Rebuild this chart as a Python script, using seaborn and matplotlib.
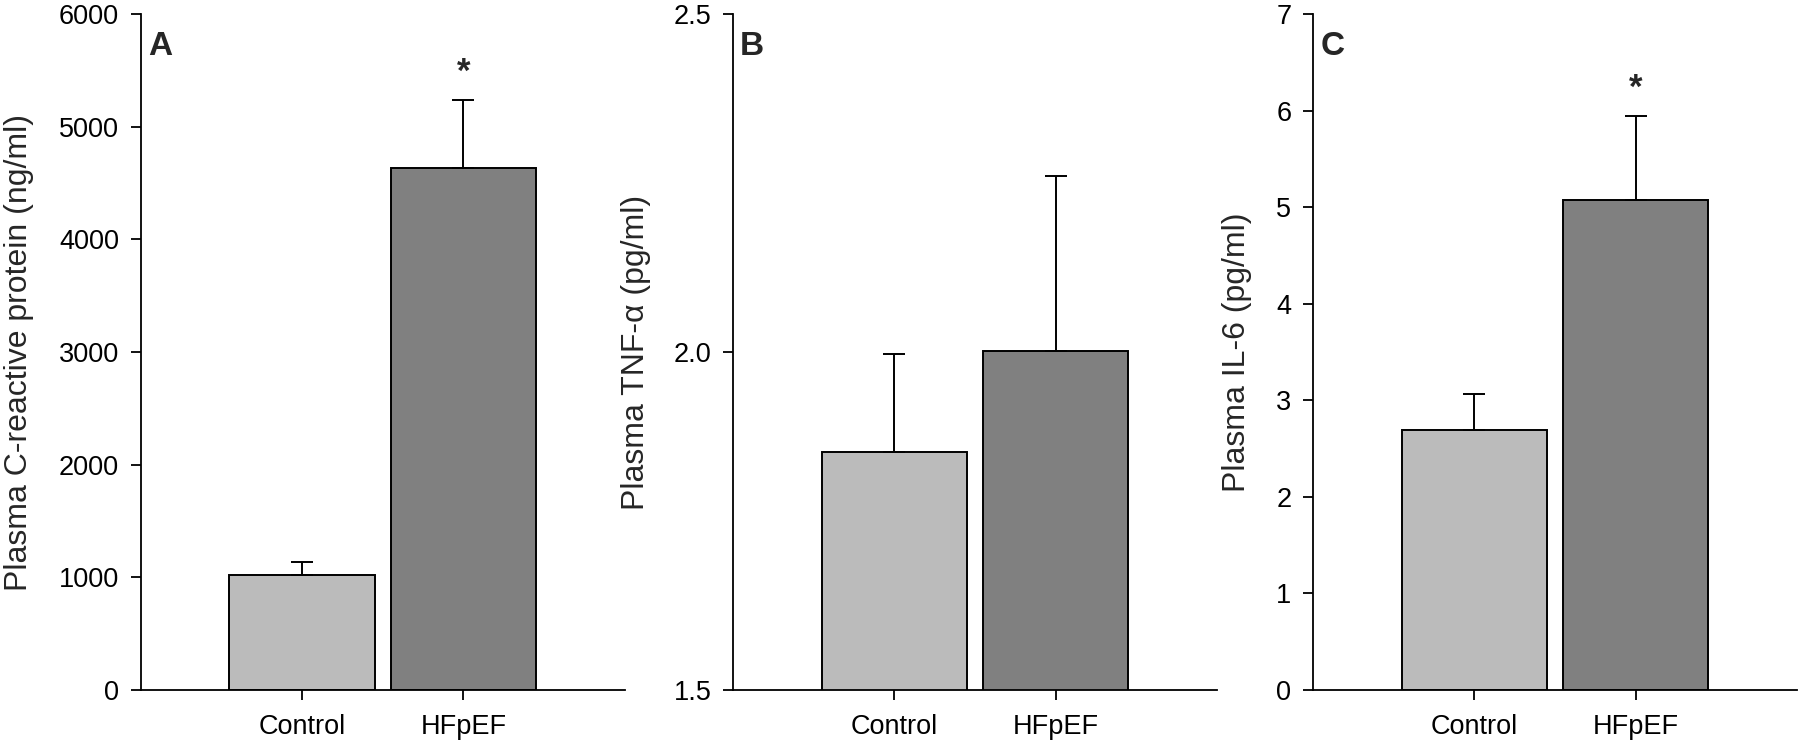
import numpy as np
import matplotlib
matplotlib.use("Agg")
import matplotlib.pyplot as plt
import seaborn as sns

sns.set_style("ticks")
plt.rcParams["font.family"] = ["Liberation Sans", "DejaVu Sans"]

groups = ["Control", "HFpEF"]
bar_colors = ["#BBBBBB", "#808080"]

crp_mean = [1020, 4635]
crp_sem = [115, 600]
tnf_mean = [1.852, 2.001]
tnf_sem = [0.145, 0.26]
il6_mean = [2.69, 5.08]
il6_sem = [0.38, 0.87]

panels = [
    ("A", crp_mean, crp_sem, "Plasma C-reactive protein (ng/ml)",
     (0, 6000), np.arange(0, 6001, 1000), "{:.0f}", [False, True], -0.220),
    ("B", tnf_mean, tnf_sem, "Plasma TNF-\u03b1 (pg/ml)",
     (1.5, 2.5), [1.5, 2.0, 2.5], "{:.1f}", [False, False], -0.170),
    ("C", il6_mean, il6_sem, "Plasma IL-6 (pg/ml)",
     (0, 7), np.arange(0, 8), "{:.0f}", [False, True], -0.126),
]
lefts = [0.0781, 0.4072, 0.7294]

fig = plt.figure(figsize=(18, 7.46), dpi=100)

for (letter, means, sems, ylabel, ylim, yticks, fmt, stars, lab_x), left in zip(panels, lefts):
    ax = fig.add_axes([left, 0.075, 0.269, 0.906])
    sns.barplot(x=groups, y=means, hue=groups, palette=bar_colors, width=0.9,
                edgecolor="black", linewidth=1.4, errorbar=None, legend=False, ax=ax)
    # upper error bars only
    ax.errorbar([0, 1], means, yerr=[np.zeros(2), sems], fmt="none", ecolor="black",
                elinewidth=1.4, capsize=8, capthick=1.4, zorder=5)
    for i, s in enumerate(stars):
        if s:
            ax.annotate("*", (i, means[i] + sems[i]), xytext=(0, 13),
                        textcoords="offset points", ha="center", va="baseline",
                        fontsize=25, fontweight="bold")
    ax.set_xlim(-1, 2)
    ax.set_ylim(*ylim)
    ax.set_yticks(yticks)
    ax.set_yticklabels([fmt.format(v) for v in yticks])
    ax.set_xlabel("")
    ax.set_ylabel(ylabel, fontsize=23)
    ax.yaxis.set_label_coords(lab_x, 0.5)
    ax.text(0.015, 0.975, letter, transform=ax.transAxes, ha="left", va="top",
            fontsize=24, fontweight="bold")
    sns.despine(ax=ax)
    for sp in ["left", "bottom"]:
        ax.spines[sp].set_linewidth(1.3)
        ax.spines[sp].set_color("black")
    ax.tick_params(axis="both", direction="out", length=7.5, width=1.3,
                   labelsize=19.5, colors="black")
    ax.tick_params(axis="y", pad=8)
    ax.tick_params(axis="x", pad=10)

fig.savefig("out.png", dpi=100)
